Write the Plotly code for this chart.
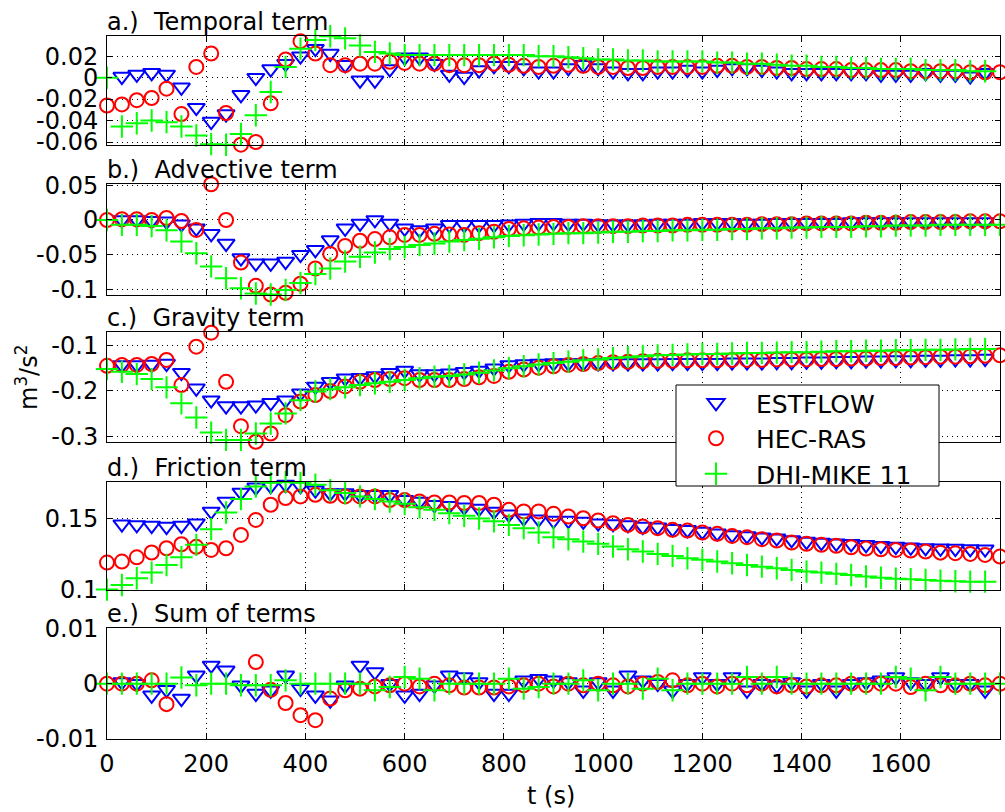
import plotly.graph_objects as go

# ---------------- data ----------------
T = [0, 30, 60, 90, 120, 150, 180, 210, 240, 270, 300, 330, 360, 390, 420, 450, 480, 510, 540, 570,
     600, 630, 660, 690, 720, 750, 780, 810, 840, 870, 900, 930, 960, 990, 1020, 1050, 1080, 1110,
     1140, 1170, 1200, 1230, 1260, 1290, 1320, 1350, 1380, 1410, 1440, 1470, 1500, 1530, 1560,
     1590, 1620, 1650, 1680, 1710, 1740, 1770, 1800]

X_TICKS = [0, 200, 400, 600, 800, 1000, 1200, 1400, 1600]
X_TICK_LABELS = ["0", "200", "400", "600", "800", "1000", "1200", "1400", "1600"]

SERIES_NAMES = ["ESTFLOW", "HEC-RAS", "DHI-MIKE 11"]
PANEL_TITLES = ["a.)\u00a0\u00a0Temporal term", "b.)\u00a0\u00a0Advective term", "c.)\u00a0\u00a0Gravity term",
                "d.)\u00a0\u00a0Friction term", "e.)\u00a0\u00a0Sum of terms"]

# a.) Temporal term
A_EST = [None, 0.001, 0.003, 0.0045, 0.003, -0.009, -0.028, -0.041, -0.034, -0.016, 0.0, 0.008, 0.013,
         0.020, 0.027, 0.0225, 0.012, -0.0025, -0.0025, 0.008, 0.019, 0.019, 0.013, 0.003, 0.001, 0.007,
         0.011, 0.011, 0.009, 0.006, 0.006, 0.009, 0.012, 0.009, 0.006, 0.0045, 0.0045, 0.006, 0.006,
         0.0075, 0.006, 0.0075, 0.009, 0.009, 0.0075, 0.006, 0.0045, 0.0045, 0.0045, 0.0045, 0.0045,
         0.0045, 0.003, 0.003, 0.003, 0.0045, 0.003, 0.003, 0.0013, 0.0045, None]
A_HEC = [-0.026, -0.025, -0.021, -0.019, -0.0103, -0.034, 0.010, 0.0225, -0.033, -0.0625, -0.060, -0.024,
         0.017, 0.034, 0.0225, 0.0116, 0.0116, 0.013, 0.013, 0.0147, 0.0137, 0.013, 0.013, 0.0116, 0.0116,
         0.0116, 0.013, 0.012, 0.011, 0.010, 0.011, 0.012, 0.011, 0.010, 0.010, 0.009, 0.009, 0.010, 0.010,
         0.010, 0.010, 0.011, 0.011, 0.010, 0.010, 0.009, 0.009, 0.008, 0.008, 0.008, 0.007, 0.007, 0.007,
         0.007, 0.006, 0.006, 0.006, 0.006, 0.005, 0.005, 0.005]
A_MIKE = [0.0, -0.0456, -0.0425, -0.040, -0.0415, -0.0456, -0.054, -0.062, -0.0626, -0.0525, -0.035, -0.0134,
          0.010, 0.027, 0.035, 0.0385, 0.0366, 0.030, 0.024, 0.0225, 0.021, 0.021, 0.021, 0.021, 0.021,
          0.021, 0.021, 0.021, 0.021, 0.020, 0.020, 0.019, 0.018, 0.017, 0.017, 0.016, 0.016, 0.015, 0.015,
          0.015, 0.015, 0.014, 0.014, 0.013, 0.013, 0.012, 0.011, 0.011, 0.010, 0.010, 0.009, 0.009, 0.008,
          0.008, 0.008, 0.007, 0.007, 0.007, 0.006, 0.006, None]

# b.) Advective term
B_EST = [None, 0.0, 0.0, -0.001, -0.002, -0.006, -0.012, -0.020, -0.034, -0.055, -0.0625, -0.0625, -0.060,
         -0.050, -0.043, -0.029, -0.012, -0.005, 0.0, -0.005, -0.012, -0.0144, -0.012, -0.007, -0.007,
         -0.007, -0.007, -0.006, -0.005, -0.004, -0.004, -0.005, -0.005, -0.006, -0.006, -0.006, -0.006,
         -0.005, -0.005, -0.005, -0.004, -0.004, -0.004, -0.005, -0.005, -0.004, -0.004, -0.004, -0.004,
         -0.004, -0.003, -0.003, -0.003, -0.003, -0.003, -0.003, -0.003, -0.003, -0.003, -0.003, None]
B_HEC = [0.0, 0.001, 0.001, 0.0, 0.003, -0.0015, -0.0144, 0.0515, 0.0, -0.0615, -0.095, -0.1075, -0.105,
         -0.092, -0.070, -0.049, -0.0375, -0.030, -0.0275, -0.025, -0.0216, -0.0216, -0.020, -0.021,
         -0.0216, -0.019, -0.017, -0.013, -0.012, -0.011, -0.010, -0.010, -0.009, -0.009, -0.009, -0.009,
         -0.008, -0.008, -0.008, -0.007, -0.007, -0.007, -0.007, -0.007, -0.006, -0.006, -0.006, -0.005,
         -0.005, -0.005, -0.005, -0.004, -0.004, -0.004, -0.003, -0.003, -0.003, -0.003, -0.002, -0.002,
         -0.002]
B_MIKE = [0.0, -0.007, -0.007, -0.0087, -0.015, -0.031, -0.048, -0.067, -0.084, -0.0986, -0.106, -0.1075,
          -0.101, -0.091, -0.078, -0.070, -0.060, -0.053, -0.047, -0.042, -0.039, -0.036, -0.034, -0.031,
          -0.029, -0.027, -0.025, -0.023, -0.022, -0.021, -0.020, -0.019, -0.019, -0.018, -0.017, -0.017,
          -0.016, -0.016, -0.015, -0.015, -0.014, -0.014, -0.013, -0.013, -0.012, -0.012, -0.011, -0.011,
          -0.010, -0.010, -0.010, -0.009, -0.009, -0.008, -0.008, -0.008, -0.007, -0.007, -0.007, -0.007,
          -0.007]

# c.) Gravity term
C_EST = [None, -0.143, -0.143, -0.142, -0.140, -0.160, -0.194, -0.220, -0.233, -0.233, -0.231, -0.226,
         -0.220, -0.205, -0.190, -0.180, -0.172, -0.171, -0.167, -0.160, -0.155, -0.163, -0.163, -0.161,
         -0.158, -0.155, -0.150, -0.143, -0.141, -0.140, -0.139, -0.139, -0.139, -0.139, -0.139, -0.139,
         -0.139, -0.139, -0.138, -0.138, -0.138, -0.138, -0.137, -0.137, -0.137, -0.136, -0.136, -0.135,
         -0.135, -0.134, -0.134, -0.133, -0.133, -0.132, -0.132, -0.131, -0.131, -0.130, -0.130, -0.129,
         None]
C_HEC = [-0.145, -0.143, -0.143, -0.141, -0.132, -0.187, -0.103, -0.0725, -0.180, -0.277, -0.311, -0.293,
         -0.253, -0.223, -0.209, -0.200, -0.190, -0.180, -0.176, -0.174, -0.172, -0.176, -0.176, -0.176,
         -0.174, -0.170, -0.167, -0.158, -0.153, -0.149, -0.146, -0.143, -0.141, -0.139, -0.137, -0.136,
         -0.135, -0.134, -0.134, -0.133, -0.133, -0.133, -0.132, -0.132, -0.132, -0.131, -0.131, -0.131,
         -0.130, -0.130, -0.129, -0.129, -0.128, -0.128, -0.127, -0.126, -0.125, -0.125, -0.124, -0.123,
         -0.122]
C_MIKE = [-0.152, -0.158, -0.163, -0.174, -0.192, -0.227, -0.258, -0.291, -0.307, -0.307, -0.293, -0.271,
          -0.249, -0.220, -0.201, -0.196, -0.192, -0.187, -0.183, -0.180, -0.176, -0.172, -0.169, -0.167,
          -0.164, -0.160, -0.155, -0.150, -0.146, -0.142, -0.139, -0.136, -0.133, -0.131, -0.128, -0.126,
          -0.124, -0.122, -0.121, -0.120, -0.119, -0.119, -0.118, -0.117, -0.117, -0.116, -0.115, -0.115,
          -0.114, -0.113, -0.113, -0.112, -0.112, -0.111, -0.111, -0.110, -0.110, -0.109, -0.108, -0.108,
          None]

# d.) Friction term
D_EST = [None, 0.146, 0.1455, 0.145, 0.1443, 0.145, 0.1467, 0.155, 0.162, 0.1684, 0.172, 0.173, 0.174,
         0.173, 0.170, 0.168, 0.168, 0.1667, 0.1667, 0.1667, 0.1632, 0.162, 0.1597, 0.159, 0.158, 0.157,
         0.155, 0.153, 0.1502, 0.1495, 0.1486, 0.1486, 0.1479, 0.1467, 0.1462, 0.1455, 0.1443, 0.1439,
         0.1427, 0.142, 0.1408, 0.1396, 0.1384, 0.1377, 0.1368, 0.1361, 0.1349, 0.1337, 0.133, 0.1325,
         0.1321, 0.1314, 0.1307, 0.1302, 0.1297, 0.1292, 0.129, 0.1288, 0.1285, 0.1283, None]
D_HEC = [0.1189, 0.1196, 0.1226, 0.126, 0.129, 0.1318, 0.130, 0.1278, 0.129, 0.1384, 0.149, 0.1597, 0.1644,
         0.1656, 0.1667, 0.166, 0.1656, 0.1656, 0.1656, 0.163, 0.163, 0.162, 0.1613, 0.1613, 0.161, 0.161,
         0.1597, 0.1561, 0.155, 0.155, 0.1533, 0.1514, 0.1502, 0.1486, 0.1467, 0.1455, 0.1443, 0.1432,
         0.142, 0.1415, 0.1401, 0.1392, 0.1377, 0.1368, 0.1354, 0.1344, 0.133, 0.1321, 0.1314, 0.1307,
         0.1297, 0.1288, 0.1283, 0.1278, 0.1274, 0.1267, 0.1259, 0.1255, 0.125, 0.1243, 0.1231]
D_MIKE = [0.0998, 0.103, 0.1078, 0.1118, 0.1172, 0.1226, 0.1314, 0.1425, 0.1542, 0.1637, 0.1726, 0.1752,
          0.1758, 0.1752, 0.1738, 0.170, 0.168, 0.1656, 0.1637, 0.162, 0.1604, 0.158, 0.1561, 0.1538,
          0.1519, 0.150, 0.148, 0.1455, 0.1432, 0.1401, 0.1368, 0.1354, 0.1337, 0.1321, 0.1302, 0.1283,
          0.1267, 0.125, 0.1236, 0.1219, 0.1208, 0.1196, 0.1184, 0.1172, 0.116, 0.1149, 0.1137, 0.1125,
          0.1118, 0.1109, 0.1101, 0.109, 0.1082, 0.1075, 0.1071, 0.1066, 0.1061, 0.1057, 0.1054, 0.1054,
          None]

# e.) Sum of terms
E_EST = [None, 0.0003, 0.0, -0.0021, -0.0011, -0.0027, 0.0015, 0.0033, 0.0024, -0.0003, -0.0018, -0.0012,
         0.0015, -0.0009, -0.0021, -0.003, -0.0003, 0.0033, 0.0021, 0.0, -0.0021, -0.0018, -0.0003, 0.0015,
         0.0012, 0.0003, -0.0018, -0.0018, 0.0006, 0.0009, 0.0006, 0.0003, -0.0012, 0.0003, -0.0012,
         0.0015, 0.0006, 0.0, -0.0012, 0.0, 0.0012, 0.0, 0.0012, -0.0012, 0.0, -0.0003, 0.0003, -0.0012,
         0.0, -0.0012, 0.0, 0.0003, 0.0006, 0.0012, 0.0003, 0.0, 0.0012, 0.0, 0.0, -0.0012, None]
E_HEC = [0.0, 0.0, 0.0, 0.0006, -0.0037, None, None, None, None, None, 0.0039, -0.0011, -0.0035, -0.0057,
         -0.0066, -0.0027, -0.0012, -0.0009, -0.0005, -0.0003, 0.0, -0.0005, 0.0, -0.0003, -0.0007,
         -0.0007, -0.0007, -0.0005, -0.0003, 0.0, -0.0005, 0.0, -0.0003, 0.0, -0.0003, -0.0005, 0.0,
         0.0003, 0.0006, -0.0003, 0.0, -0.0005, 0.0, -0.0003, 0.0, -0.0005, -0.0003, -0.0005, -0.0003,
         -0.0003, 0.0, -0.0003, 0.0, 0.0, -0.0006, 0.0, -0.0003, -0.0003, 0.0, -0.0003, 0.0]
E_MIKE = [0.0, 0.0, 0.0, 0.0, 0.0, 0.0011, -0.0003, 0.0, 0.0, -0.0003, -0.0003, -0.0003, 0.0006, 0.0, 0.0,
          0.0, 0.0, 0.0, -0.0012, -0.0006, 0.0012, 0.0009, -0.0012, 0.0, 0.0, 0.0, 0.0, 0.0009, -0.0009,
          -0.0006, 0.0, 0.0, 0.0006, -0.0012, 0.0, 0.0, -0.0009, 0.0009, -0.0012, 0.0, 0.0, 0.0, 0.0,
          0.0012, 0.0, 0.0012, 0.0, 0.0, 0.0, 0.0, 0.0, 0.0, 0.0, 0.0012, 0.0009, -0.0012, 0.0012, 0.0,
          0.0, 0.0, 0.0]

Y_RANGES = [[-0.0628, 0.0388], [-0.1078, 0.0519], [-0.3116, -0.0716], [0.0995, 0.176], [-0.01, 0.01]]
Y_TICKS = [[-0.06, -0.04, -0.02, 0, 0.02], [-0.1, -0.05, 0, 0.05], [-0.3, -0.2, -0.1], [0.1, 0.15],
           [-0.01, 0, 0.01]]
Y_TICK_LABELS = [["-0.06", "-0.04", "-0.02", "0", "0.02"], ["-0.1", "-0.05", "0", "0.05"],
                 ["-0.3", "-0.2", "-0.1"], ["0.1", "0.15"], ["-0.01", "0", "0.01"]]

PANELS = [(A_EST, A_HEC, A_MIKE), (B_EST, B_HEC, B_MIKE), (C_EST, C_HEC, C_MIKE),
          (D_EST, D_HEC, D_MIKE), (E_EST, E_HEC, E_MIKE)]

# ---------------- layout geometry (pixels) ----------------
W, H = 1005, 812
ML, MR, MT, MB = 107, 5, 36, 73
PW, PH = W - ML - MR, H - MT - MB
PANEL_PX = [(36, 145), (184, 294.7), (332.3, 442), (481.7, 590), (628.3, 739)]


def py(v):
    return (H - MB - v) / PH


def px(v):
    return (v - ML) / PW


FONT = "DejaVu Sans"
COLORS = ["#0000FF", "#FF0000", "#00FF00"]
SYMBOLS = ["triangle-down-open", "circle-open", "cross-thin"]
SIZES = [15, 14, 16]

fig = go.Figure()
for i, series in enumerate(PANELS):
    sfx = "" if i == 0 else str(i + 1)
    for k, vals in enumerate(series):
        fig.add_trace(go.Scatter(
            x=T, y=vals, mode="markers", name=SERIES_NAMES[k], legendgroup=SERIES_NAMES[k],
            showlegend=(i == 0), xaxis="x" + sfx, yaxis="y" + sfx, cliponaxis=False,
            marker=dict(symbol=SYMBOLS[k], size=SIZES[k], color=COLORS[k],
                        line=dict(width=2, color=COLORS[k]))))

layout = dict(width=W, height=H, margin=dict(l=ML, r=MR, t=MT, b=MB),
              paper_bgcolor="white", plot_bgcolor="white",
              font=dict(family=FONT, size=24, color="black"),
              showlegend=True)

axis_common = dict(showline=True, linecolor="black", linewidth=1, mirror="allticks",
                   ticks="inside", tickcolor="black", tickwidth=1,
                   showgrid=True, gridcolor="black", gridwidth=1, griddash="1px,4px",
                   zeroline=False, tickfont=dict(family=FONT, size=24, color="black"))

annotations = []
for i in range(5):
    sfx = "" if i == 0 else str(i + 1)
    top, bot = PANEL_PX[i]
    layout["xaxis" + sfx] = dict(axis_common, domain=[0, 1], range=[0, 1800], anchor="y" + sfx,
                                 tickvals=X_TICKS, ticktext=X_TICK_LABELS, ticklen=6,
                                 showticklabels=(i == 4), ticklabelstandoff=3,
                                 **({} if i == 0 else {"matches": "x"}))
    layout["yaxis" + sfx] = dict(axis_common, domain=[py(bot), py(top)], range=Y_RANGES[i],
                                 anchor="x" + sfx, tickvals=Y_TICKS[i], ticktext=Y_TICK_LABELS[i],
                                 ticklen=5, ticklabelstandoff=3)
    annotations.append(dict(text=PANEL_TITLES[i], x=0, xref="paper", xanchor="left",
                            y=py(top), yref="paper", yanchor="bottom", showarrow=False,
                            font=dict(family=FONT, size=24, color="black"), xshift=-2, yshift=-2))

annotations.append(dict(text="m<sup>3</sup>/s<sup>2</sup>", textangle=-90, x=px(27), xref="paper",
                        xanchor="center", y=py(378), yref="paper", yanchor="middle", showarrow=False,
                        font=dict(family=FONT, size=24, color="black")))
annotations.append(dict(text="t (s)", x=px(551), xref="paper", xanchor="center", y=py(796),
                        yref="paper", yanchor="middle", showarrow=False,
                        font=dict(family=FONT, size=24, color="black")))
layout["annotations"] = annotations

# legend box
layout["shapes"] = [dict(type="rect", xref="paper", yref="paper", x0=px(676), x1=px(939),
                         y0=py(486), y1=py(385), fillcolor="white", line=dict(color="black", width=1),
                         layer="above")]
layout["legend"] = dict(x=px(676), y=py(380), xanchor="left", yanchor="top", bgcolor="rgba(0,0,0,0)",
                        borderwidth=0, font=dict(family=FONT, size=25, color="black"), itemwidth=70,
                        tracegroupgap=0)

fig.update_layout(**layout)
fig.write_html("out.html")
